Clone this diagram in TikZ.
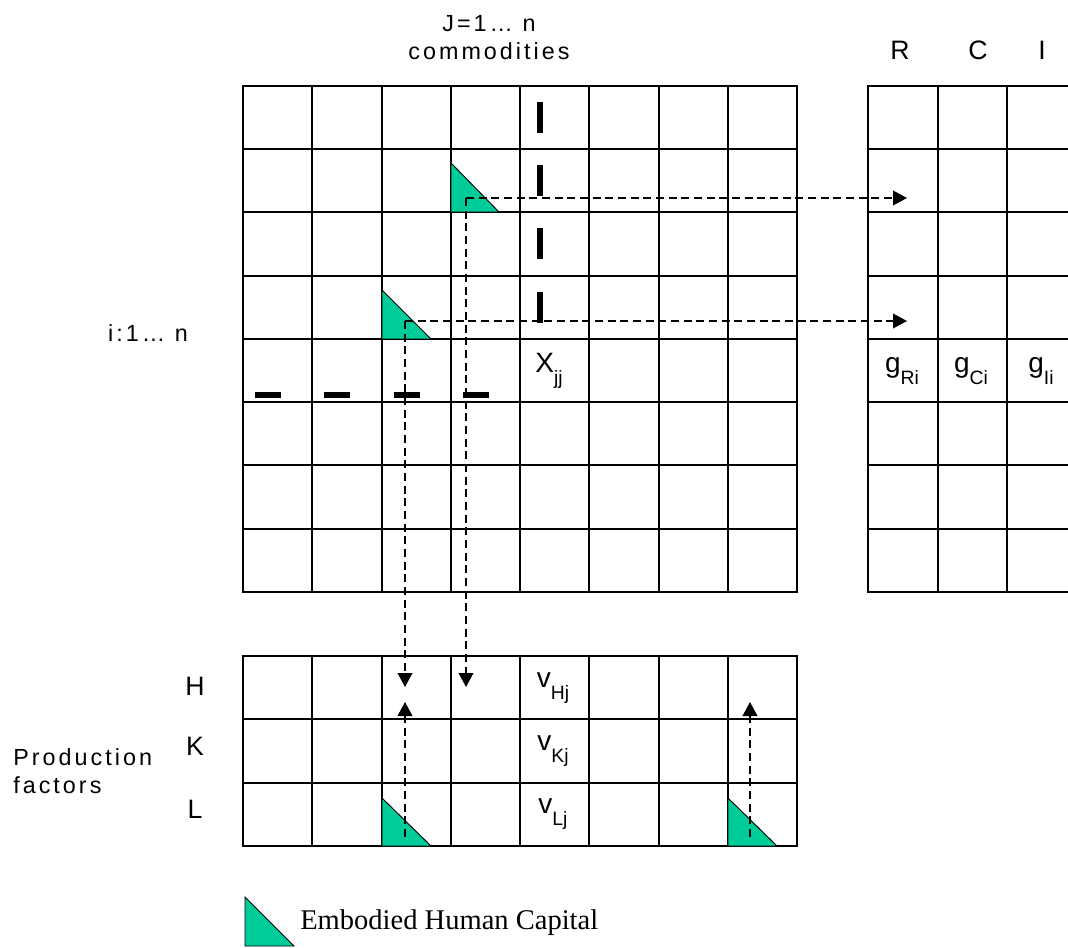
\documentclass[tikz,border=0pt]{standalone}
\usepackage{fontspec}
\setmainfont{Liberation Sans}
\newfontfamily\legendfont{Liberation Serif}
\newfontfamily\widesans[LetterSpace=13]{Liberation Sans}
\usepackage{xcolor}
\usetikzlibrary{arrows.meta}
\definecolor{humancap}{RGB}{0,204,153}
\newcommand{\lowsub}[1]{\raisebox{-9pt}{\fontsize{14.5}{16}\selectfont #1}}

\begin{document}
\begin{tikzpicture}[x=0.75pt, y=-0.75pt,
  cellline/.style={line width=1.5pt, line cap=rect},
  capital/.style={draw=black, line width=0.7pt, fill=humancap},
  flow/.style={line width=1.2pt, dash pattern=on 6pt off 3.5pt, -{Triangle[length=10.5pt, width=11pt]}},
  tally/.style={line width=4.5pt},
  spaced/.style={font=\widesans\fontsize{17.5}{21}\selectfont, align=center, inner sep=0pt},
  letter/.style={font=\fontsize{20}{22}\selectfont, inner sep=0pt},
  entry/.style={font=\fontsize{21}{23}\selectfont, inner sep=0pt}
]
  \useasboundingbox (0,0) rectangle (1068,948);

  % Commodity matrix
  \foreach \k in {0,...,8} {
    \draw[cellline] ({243+69.25*\k},86) -- ({243+69.25*\k},592);
    \draw[cellline] (243,{86+63.25*\k}) -- (797,{86+63.25*\k});
  }
  % Final demand columns
  \foreach \k in {0,...,3}
    \draw[cellline] ({868+69.5*\k},86) -- ({868+69.5*\k},592);
  \foreach \k in {0,...,8}
    \draw[cellline] (868,{86+63.25*\k}) -- (1076.5,{86+63.25*\k});
  % Production factor rows
  \foreach \k in {0,...,8}
    \draw[cellline] ({243+69.25*\k},656) -- ({243+69.25*\k},846);
  \foreach \k in {0,...,3}
    \draw[cellline] (243,{656+63.33*\k}) -- (797,{656+63.33*\k});

  % Row and column marks
  \foreach \r in {0,...,3}
    \draw[tally] (540,{102+63.25*\r}) -- (540,{133+63.25*\r});
  \foreach \c in {0,...,3}
    \draw[tally] ({255+69.25*\c},395) -- ({281+69.25*\c},395);

  % Embodied human capital
  \filldraw[capital] (451,163) -- (451,212) -- (499,212) -- cycle;
  \filldraw[capital] (382,290) -- (382,339) -- (431,339) -- cycle;
  \filldraw[capital] (382,798) -- (382,846) -- (431,846) -- cycle;
  \filldraw[capital] (728,798) -- (728,846) -- (777,846) -- cycle;

  % Headings
  \node[spaced] (jrange) at (489,38) {J=1… n\\commodities};
  \node[letter] (rhead) at (900,50) {R};
  \node[letter] (chead) at (978,50) {C};
  \node[letter] (ihead) at (1042,50) {I};
  \node[spaced] (irange) at (148,333) {i:1… n};
  \node[letter] (hrow) at (195,686) {H};
  \node[letter] (krow) at (195,746) {K};
  \node[letter] (lrow) at (195,809) {L};
  \node[spaced, align=left, anchor=west] (factors) at (13,771) {Production\\factors};

  % Cell entries
  \node[entry] (xjj) at (549,371) {X\lowsub{jj}};
  \node[entry] (gR) at (902,371) {g\lowsub{Ri}};
  \node[entry] (gC) at (971,371) {g\lowsub{Ci}};
  \node[entry] (gI) at (1041,371) {g\lowsub{Ii}};
  \node[entry] (vH) at (553,688) {v\lowsub{Hj}};
  \node[entry] (vK) at (553,751) {v\lowsub{Kj}};
  \node[entry] (vL) at (553,814) {v\lowsub{Lj}};

  % Flows of embodied capital
  \coordinate (capA) at (466,198);
  \coordinate (capB) at (405,321);
  \coordinate (capC) at (405,837);
  \coordinate (capD) at (750,837);
  \coordinate (tipAR) at (907,198);
  \coordinate (tipAD) at (466,687);
  \coordinate (tipBR) at (907,321);
  \coordinate (tipBD) at (405,687);
  \coordinate (tipCU) at (405,702);
  \coordinate (tipDU) at (750,702);
  \draw[flow] (capA) -- (tipAR);
  \draw[flow] (capA) -- (tipAD);
  \draw[flow] (capB) -- (tipBR);
  \draw[flow] (capB) -- (tipBD);
  \draw[flow] (capC) -- (tipCU);
  \draw[flow] (capD) -- (tipDU);

  % Legend
  \filldraw[capital] (245,897) -- (245,946) -- (294,946) -- cycle;
  \node[font=\legendfont\fontsize{21.4}{24}\selectfont, anchor=west, inner sep=0pt] (legend) at (300,923) {Embodied Human Capital};
\end{tikzpicture}
\end{document}
